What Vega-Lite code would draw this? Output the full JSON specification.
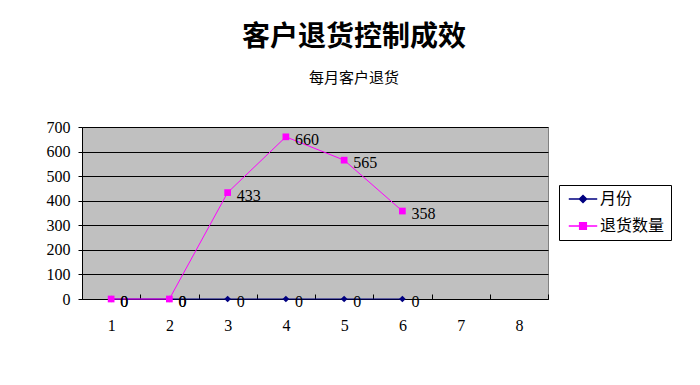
{
  "$schema": "https://vega.github.io/schema/vega-lite/v6.json",
  "width": 466,
  "height": 172,
  "autosize": {"type": "none"},
  "padding": {"left": 82, "top": 127, "right": 152, "bottom": 86},
  "background": "white",
  "title": {
    "text": "客户退货控制成效",
    "subtitle": "每月客户退货",
    "anchor": "middle",
    "frame": "group",
    "dx": 39,
    "offset": 33,
    "subtitlePadding": 19,
    "font": "Noto Sans CJK SC",
    "fontSize": 28,
    "fontWeight": "bold",
    "color": "black",
    "subtitleFont": "Noto Sans CJK SC",
    "subtitleFontSize": 15,
    "subtitleColor": "black"
  },
  "config": {
    "view": {"fill": "#C0C0C0", "stroke": "#808080", "strokeWidth": 1},
    "axis": {"labelFont": "Liberation Serif", "labelFontSize": 16, "labelColor": "black", "domainColor": "black", "tickColor": "black"}
  },
  "data": {
    "values": [
      {"month": 1, "series": "月份", "value": 0},
      {"month": 2, "series": "月份", "value": 0},
      {"month": 3, "series": "月份", "value": 0},
      {"month": 4, "series": "月份", "value": 0},
      {"month": 5, "series": "月份", "value": 0},
      {"month": 6, "series": "月份", "value": 0},
      {"month": 1, "series": "退货数量", "value": 0},
      {"month": 2, "series": "退货数量", "value": 0},
      {"month": 3, "series": "退货数量", "value": 433},
      {"month": 4, "series": "退货数量", "value": 660},
      {"month": 5, "series": "退货数量", "value": 565},
      {"month": 6, "series": "退货数量", "value": 358}
    ]
  },
  "encoding": {
    "x": {
      "field": "month",
      "type": "ordinal",
      "scale": {"domain": [1, 2, 3, 4, 5, 6, 7, 8], "paddingInner": 0, "paddingOuter": 0},
      "axis": {"title": null, "labelAngle": 0, "tickBand": "extent", "tickSize": -5, "labelPadding": 23, "grid": false}
    },
    "y": {
      "field": "value",
      "type": "quantitative",
      "scale": {"domain": [0, 700], "nice": false},
      "axis": {"title": null, "values": [0, 100, 200, 300, 400, 500, 600, 700], "tickSize": 4, "labelPadding": 8, "grid": true, "gridColor": "black", "gridOpacity": 1, "gridWidth": 1}
    }
  },
  "layer": [
    {
      "transform": [{"filter": "datum.series === '月份'"}],
      "mark": {"type": "line", "strokeWidth": 1, "color": "#000080"},
      "encoding": {"order": {"field": "month"}}
    },
    {
      "transform": [{"filter": "datum.series === '月份'"}],
      "mark": {"type": "point", "filled": true, "opacity": 1, "size": 45, "shape": "diamond", "color": "#000080"}
    },
    {
      "transform": [{"filter": "datum.series === '退货数量'"}],
      "mark": {"type": "line", "strokeWidth": 1, "color": "#FF00FF"},
      "encoding": {"order": {"field": "month"}}
    },
    {
      "transform": [{"filter": "datum.series === '退货数量'"}],
      "mark": {"type": "point", "filled": true, "opacity": 1, "size": 45, "shape": "square", "color": "#FF00FF"}
    },
    {
      "transform": [{"filter": "false"}],
      "mark": {"type": "point", "filled": true, "opacity": 1, "strokeWidth": 1.5},
      "encoding": {
        "color": {
          "field": "series",
          "type": "nominal",
          "scale": {"domain": ["月份", "退货数量"], "range": ["#000080", "#FF00FF"]},
          "legend": {
            "title": null,
            "orient": "none",
            "legendX": 477,
            "legendY": 58,
            "strokeColor": "black",
            "fillColor": "white",
            "padding": 6,
            "labelFont": "Noto Sans CJK SC",
            "labelFontSize": 16,
            "labelColor": "black",
            "symbolSize": 90,
            "symbolOffset": 10,
            "symbolStrokeWidth": 1.5,
            "rowPadding": 11,
            "labelOffset": 9
          }
        },
        "stroke": {
          "field": "series",
          "type": "nominal",
          "scale": {"domain": ["月份", "退货数量"], "range": ["#000080", "#FF00FF"]}
        },
        "shape": {
          "field": "series",
          "type": "nominal",
          "scale": {"domain": ["月份", "退货数量"], "range": ["M-3,0H3M0,-0.75L0.75,0L0,0.75L-0.75,0Z", "M-3,0H3M-0.7,-0.7H0.7V0.7H-0.7Z"]}
        }
      }
    },
    {
      "mark": {"type": "text", "align": "left", "baseline": "middle", "dx": 9, "dy": 3, "font": "Liberation Serif", "fontSize": 16, "color": "black"},
      "encoding": {
        "text": {"field": "value", "type": "quantitative"}
      }
    }
  ]
}
